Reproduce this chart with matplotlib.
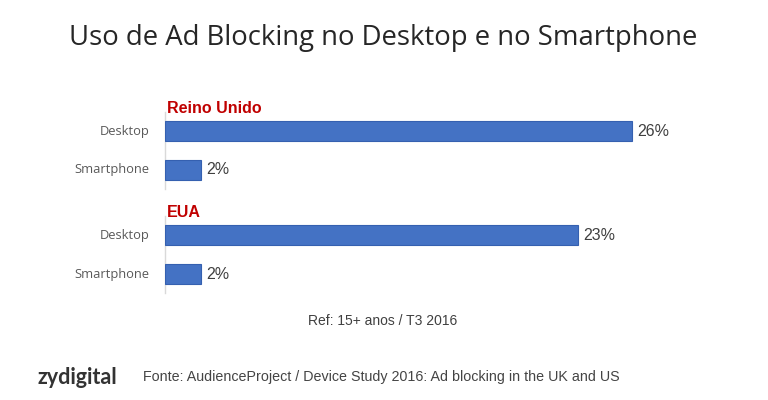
import matplotlib.pyplot as plt

# data
groups = ["Reino Unido", "EUA"]
devices = ["Desktop", "Smartphone"]
values = [[26, 2], [23, 2]]

title = "Uso de Ad Blocking no Desktop e no Smartphone"
note = "Ref: 15+ anos / T3 2016"
source = "Fonte: AudienceProject / Device Study 2016: Ad blocking in the UK and US"
brand = "zydigital"

W, H = 768, 400
fig = plt.figure(figsize=(W / 100, H / 100), dpi=100)
fig.patch.set_facecolor("white")

# axes placed in pixel terms: left 165, right 765, top 100, bottom 300
ax = fig.add_axes([165 / W, 1 - 300 / H, 600 / W, 200 / H])
ax.set_xlim(0, 600 / 17.96)
row_px = 39.0
ax.set_ylim((300 - 131) / row_px, (100 - 131) / row_px)
ax.axis("off")

group_gap = 2.67
bar_h = 0.52
for g, grp in enumerate(groups):
    base = g * group_gap
    ys = [base + i for i in range(len(devices))]
    ax.barh(ys, values[g], height=bar_h, color="#4472C4",
            edgecolor="#3560B0", linewidth=0.8)
    # thin axis line for each group
    ax.plot([0, 0], [base - 0.48, ys[-1] + 0.48], color="#d9d9d9",
            lw=1, clip_on=False, zorder=0)
    ax.text(0.1, base - 0.58, grp, color="#C00000", fontsize=11.5,
            fontweight="bold", family="Liberation Sans", va="center", ha="left")
    for y, dev, v in zip(ys, devices, values[g]):
        ax.text(-0.85, y, dev, ha="right", va="center", fontsize=9.3,
                color="#595959", family="Open Sans")
        ax.text(v + 0.3, y, f"{v}%", ha="left", va="center", fontsize=11.5,
                color="#404040", family="Liberation Sans")

fig.text(383 / W, 1 - 38 / H, title, ha="center", va="center",
         fontsize=19.8, color="#262626", family="Open Sans")
fig.text(383 / W, 1 - 321 / H, note, ha="center", va="center",
         fontsize=10, color="#404040", family="Liberation Sans")
fig.text(37 / W, 1 - 377 / H, brand, ha="left", va="center",
         fontsize=15.5, fontweight="bold", color="#333333", family="Lato")
fig.text(143 / W, 1 - 377 / H, source, ha="left", va="center",
         fontsize=10.3, color="#444444", family="Liberation Sans")

fig.savefig("out.png", dpi=100)
